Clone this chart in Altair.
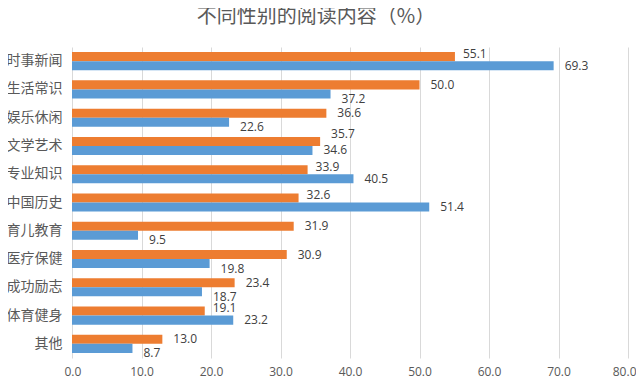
import altair as alt
import pandas as pd

categories = ["时事新闻", "生活常识", "娱乐休闲", "文学艺术", "专业知识", "中国历史",
              "育儿教育", "医疗保健", "成功励志", "体育健身", "其他"]
series_names = ["女", "男"]
female_values = [55.1, 50.0, 36.6, 35.7, 33.9, 32.6, 31.9, 30.9, 23.4, 19.1, 13.0]
male_values = [69.3, 37.2, 22.6, 34.6, 40.5, 51.4, 9.5, 19.8, 18.7, 23.2, 8.7]
x_ticks = [0, 10, 20, 30, 40, 50, 60, 70, 80]
colors = ["#ED7D31", "#5B9BD5"]

rows = []
for c, f, m in zip(categories, female_values, male_values):
    rows.append({"category": c, "series": series_names[0], "value": f})
    rows.append({"category": c, "series": series_names[1], "value": m})
df = pd.DataFrame(rows)

y_enc = alt.Y("category:N", sort=categories, title=None,
              scale=alt.Scale(paddingInner=0.36, paddingOuter=0.18),
              axis=alt.Axis(domain=False, ticks=False, labelFontSize=14,
                            labelFont="Noto Sans CJK SC", labelColor="#595959",
                            labelPadding=10))
yoff_enc = alt.YOffset("series:N", sort=series_names, scale=alt.Scale(paddingInner=0, paddingOuter=0))
x_enc = alt.X("value:Q", title=None,
              scale=alt.Scale(domain=[0, 80], nice=False),
              axis=alt.Axis(values=x_ticks, format=".1f", domain=False, ticks=False,
                            grid=True, gridColor="#D9D9D9", gridWidth=1,
                            labelFontSize=12, labelFont="Open Sans",
                            labelFlush=True, labelFlushOffset=8,
                            labelColor="#595959", labelPadding=8))

base = alt.Chart(df).encode(y=y_enc, yOffset=yoff_enc)

bars = base.mark_bar().encode(
    x=x_enc,
    color=alt.Color("series:N", scale=alt.Scale(domain=series_names, range=colors), legend=None),
)

lab = base.transform_joinaggregate(
    maxv="max(value)", minv="min(value)", groupby=["category"]
).transform_calculate(
    higher="datum.value >= datum.maxv ? 1 : 0",
    close="datum.maxv - datum.minv < 3 ? 1 : 0",
)

def text_layer(series, higher, close, dx, dy):
    return lab.transform_filter(
        (alt.datum.series == series) & (alt.datum.higher == higher) & (alt.datum.close == close)
    ).mark_text(align="left", baseline="middle", dx=dx, dy=dy, fontSize=12,
                font="Open Sans", color="#404040").encode(
        x="value:Q", text=alt.Text("value:Q", format=".1f"))

texts = [
    text_layer(series_names[0], 1, 0, 11, 0),
    text_layer(series_names[0], 0, 0, 8, -3),
    text_layer(series_names[1], 1, 0, 11, 0),
    text_layer(series_names[1], 0, 0, 11, 5),
    text_layer(series_names[0], 1, 1, 11, -7),
    text_layer(series_names[1], 0, 1, 11, 0),
]

chart = alt.layer(bars, *texts).properties(
    width=556, height=311,
    autosize=alt.AutoSizeParams(type="none"),
    padding={"left": 64, "top": 39, "right": 8, "bottom": 26},
    title=alt.TitleParams("不同性别的阅读内容（%）", fontSize=20, font="Noto Sans CJK SC",
                          fontWeight="normal", color="#595959", anchor="middle",
                          frame="group", dx=-34, offset=20),
).configure_view(stroke=None)

chart.save("out.html", embed_options={"renderer": "svg", "actions": False})
